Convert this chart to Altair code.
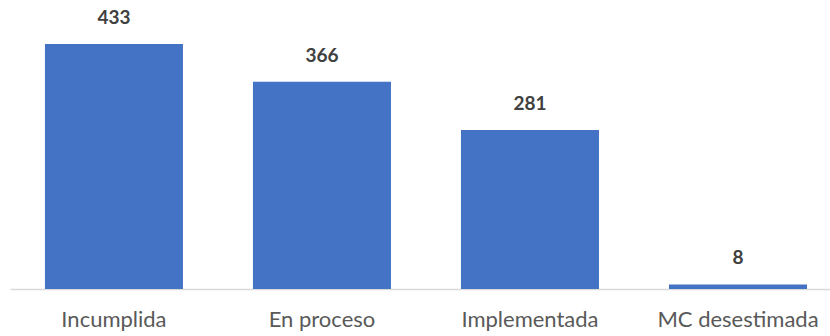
import altair as alt
import pandas as pd

categories = ["Incumplida", "En proceso", "Implementada", "MC desestimada"]
values = [433, 366, 281, 8]

df = pd.DataFrame({"cat": categories, "val": values})

x = alt.X("cat:N", sort=categories,
          scale=alt.Scale(paddingInner=0.3365, paddingOuter=0.1393, align=0.603),
          axis=alt.Axis(title=None, labelAngle=0, ticks=False, domainColor="#d9d9d9",
                        domainWidth=1.5, labelFont="Lato", labelFontSize=22,
                        labelColor="#595959", labelPadding=20))
y = alt.Y("val:Q", scale=alt.Scale(domain=[0, 500], nice=False),
          axis=None)

bars = alt.Chart(df).mark_bar(color="#4472c4").encode(x=x, y=y)
text = alt.Chart(df).mark_text(dy=-20, baseline="alphabetic", font="Lato", fontSize=19,
                               fontWeight="bold", color="#404040").encode(x=x, y=y, text="val:Q")

chart = (bars + text).properties(
    width=820, height=283,
    padding={"left": 10, "top": 6, "right": 0, "bottom": 47},
    autosize=alt.AutoSizeParams(type="none"),
).configure_view(stroke=None)

chart.save("out.html", embed_options={"renderer": "svg", "actions": False})
